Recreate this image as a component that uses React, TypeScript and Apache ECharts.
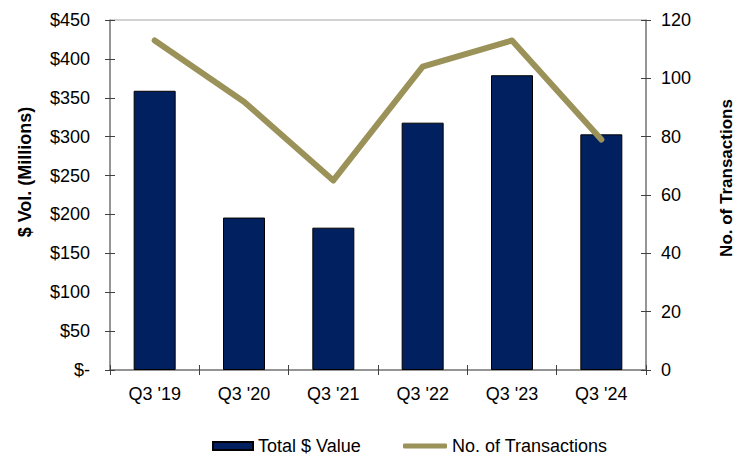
import React, { useEffect, useRef } from "react";
import * as echarts from "echarts";

const categories = ["Q3 '19", "Q3 '20", "Q3 '21", "Q3 '22", "Q3 '23", "Q3 '24"];
const totalValue = [359, 196, 183, 318, 379, 303];
const transactions = [113, 92, 65, 104, 113, 79];

const FONT = "'Liberation Sans', Arial, sans-serif";

export default function App() {
  const ref = useRef<HTMLDivElement>(null);
  useEffect(() => {
    document.body.style.margin = "0";
    if (!ref.current) return;
    const chart = echarts.init(ref.current, null, { renderer: "svg" });
    const tickStyle = { color: "#404040", width: 1 };
    const axisLineStyle = { color: "#808080", width: 1.5 };
    const legendText = { fontSize: 18, lineHeight: 18, color: "#000", fontFamily: FONT };
    chart.setOption({
      animation: false,
      textStyle: { fontFamily: FONT },
      grid: {
        left: 110,
        right: 98,
        top: 20,
        bottom: 87,
        show: true,
        borderColor: "#a6a6a6",
        borderWidth: 1,
      },
      legend: [
        {
          left: 212,
          top: 437,
          padding: 0,
          itemWidth: 40,
          itemHeight: 8,
          itemGap: 6,
          textStyle: legendText,
          data: [{ name: "Total $ Value", icon: "rect" }],
        },
        {
          left: 403,
          top: 437,
          padding: 0,
          itemWidth: 44,
          itemHeight: 5,
          textStyle: legendText,
          data: [
            {
              name: "No. of Transactions",
              icon: "roundRect",
              itemStyle: { color: "#9B9259", borderWidth: 0 },
            },
          ],
        },
      ],
      xAxis: [
        {
          type: "category",
          data: categories,
          position: "bottom",
          axisLine: { show: true, lineStyle: axisLineStyle },
          axisTick: { show: true, inside: false, length: 5, lineStyle: tickStyle },
          axisLabel: { fontSize: 18, color: "#000", margin: 15, fontFamily: FONT },
          splitLine: { show: false },
        },
        {
          type: "category",
          data: categories,
          position: "bottom",
          axisLine: { show: false },
          axisTick: { show: true, inside: true, length: 5, lineStyle: tickStyle },
          axisLabel: { show: false },
          splitLine: { show: false },
        },
      ],
      yAxis: [
        {
          type: "value",
          position: "left",
          min: 0,
          max: 450,
          interval: 50,
          axisLine: { show: true, lineStyle: axisLineStyle },
          axisTick: { show: true, inside: false, length: 5, lineStyle: tickStyle },
          axisLabel: {
            fontSize: 18,
            color: "#000",
            margin: 20,
            fontFamily: FONT,
            formatter: (v: number) => (v === 0 ? "$-" : "$" + v),
          },
          splitLine: { show: false },
        },
        {
          type: "value",
          position: "right",
          min: 0,
          max: 120,
          interval: 20,
          axisLine: { show: true, lineStyle: axisLineStyle },
          axisTick: { show: true, inside: false, length: 5, lineStyle: tickStyle },
          axisLabel: { fontSize: 18, color: "#000", margin: 15, fontFamily: FONT },
          splitLine: { show: false },
        },
        {
          type: "value",
          position: "left",
          min: 0,
          max: 450,
          interval: 50,
          axisLine: { show: false },
          axisTick: { show: true, inside: true, length: 5, lineStyle: tickStyle },
          axisLabel: { show: false },
          splitLine: { show: false },
        },
        {
          type: "value",
          position: "right",
          min: 0,
          max: 120,
          interval: 20,
          axisLine: { show: false },
          axisTick: { show: true, inside: true, length: 5, lineStyle: tickStyle },
          axisLabel: { show: false },
          splitLine: { show: false },
        },
      ],
      graphic: [
        {
          type: "text",
          x: 25,
          y: 172,
          rotation: Math.PI / 2,
          style: {
            text: "$ Vol. (Millions)",
            fontSize: 18,
            fontWeight: "bold",
            fontFamily: FONT,
            fill: "#000",
            align: "center",
            verticalAlign: "middle",
          },
        },
        {
          type: "text",
          x: 726,
          y: 178,
          rotation: Math.PI / 2,
          style: {
            text: "No. of Transactions",
            fontSize: 17,
            fontWeight: "bold",
            fontFamily: FONT,
            fill: "#000",
            align: "center",
            verticalAlign: "middle",
          },
        },
      ],
      series: [
        {
          name: "Total $ Value",
          type: "bar",
          xAxisIndex: 0,
          yAxisIndex: 0,
          data: totalValue,
          barWidth: 42,
          itemStyle: { color: "#002060", borderColor: "#000", borderWidth: 1 },
        },
        {
          name: "No. of Transactions",
          type: "line",
          xAxisIndex: 0,
          yAxisIndex: 1,
          data: transactions,
          symbol: "none",
          lineStyle: { color: "#9B9259", width: 6, cap: "round", join: "round" },
          itemStyle: { color: "#9B9259" },
        },
      ],
    });
    return () => chart.dispose();
  }, []);
  return <div ref={ref} style={{ width: 744, height: 457 }} />;
}
